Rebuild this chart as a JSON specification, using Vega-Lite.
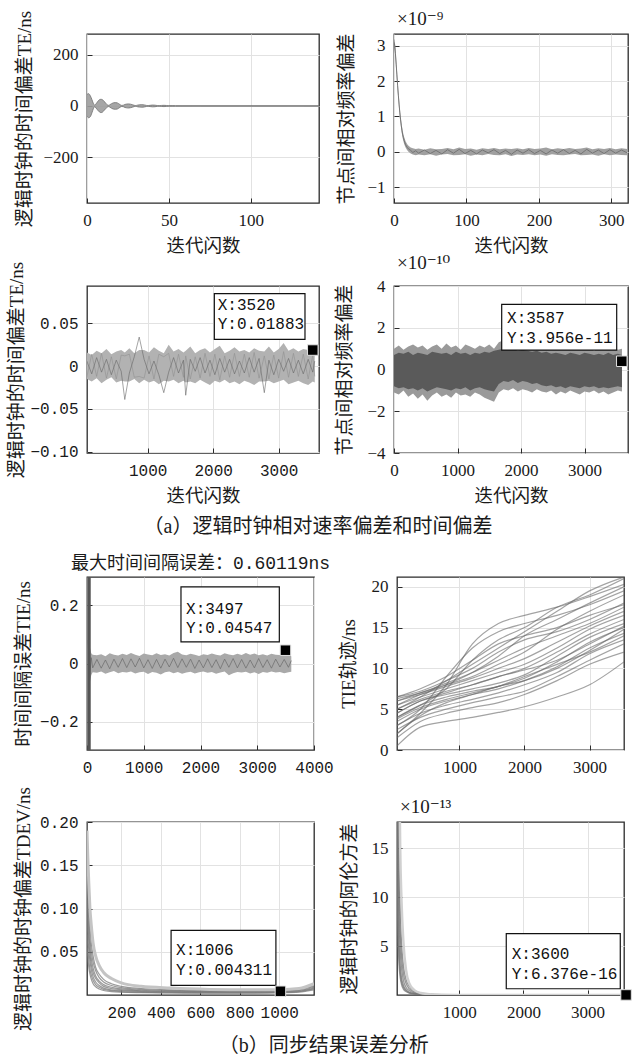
{
"$schema":"https://vega.github.io/schema/vega-lite/v6.json",
"padding":{"left":6,"top":9,"right":4,"bottom":4},
"background":"white",
"config":{
 "view":{"stroke":"#2b2b2b","strokeWidth":1.3},
 "axis":{"domain":false,"grid":true,"gridColor":"#e2e2e2","gridWidth":1,"ticks":true,"tickSize":-5,"tickColor":"#2b2b2b","tickWidth":1,"labelPadding":14,"labelFont":"Liberation Serif","labelFontSize":17,"labelColor":"#1a1a1a","labelFlush":false,"labelOverlap":false,"titleFont":"Liberation Serif, Noto Sans CJK SC","titleFontSize":19,"titleFontWeight":"normal","titleColor":"#1a1a1a","titlePadding":8,"format":"d"},
 "title":{"fontWeight":"normal","color":"#1a1a1a"}
},
"datasets":{
"p1":[{"x":0,"lo":-40,"hi":45},{"x":1,"lo":-46,"hi":48},{"x":2,"lo":-42,"hi":40},{"x":3,"lo":-27,"hi":25},{"x":4,"lo":-9,"hi":8},{"x":4.7,"lo":-3,"hi":3},{"x":5.5,"lo":-8,"hi":8},{"x":6.5,"lo":-16,"hi":17},{"x":7.5,"lo":-23,"hi":24},{"x":8.5,"lo":-26,"hi":26},{"x":9.5,"lo":-24,"hi":24},{"x":10.5,"lo":-17,"hi":18},{"x":11.5,"lo":-10,"hi":10},{"x":12.5,"lo":-4,"hi":4},{"x":13.2,"lo":-2.5,"hi":2.5},{"x":14,"lo":-5,"hi":5},{"x":15,"lo":-9,"hi":9},{"x":16,"lo":-12,"hi":12},{"x":17.3,"lo":-13,"hi":13},{"x":18.5,"lo":-12,"hi":12},{"x":19.5,"lo":-8,"hi":8},{"x":20.5,"lo":-4,"hi":4},{"x":21.3,"lo":-2,"hi":2},{"x":22.2,"lo":-3,"hi":3},{"x":23.2,"lo":-6,"hi":6},{"x":24.3,"lo":-7.5,"hi":7.5},{"x":25.4,"lo":-8,"hi":8},{"x":26.5,"lo":-7,"hi":7},{"x":27.7,"lo":-5,"hi":5},{"x":28.8,"lo":-2.5,"hi":2.5},{"x":29.7,"lo":-1.5,"hi":1.5},{"x":30.7,"lo":-3,"hi":3},{"x":32,"lo":-4.5,"hi":4.5},{"x":33.5,"lo":-5,"hi":5},{"x":35,"lo":-4,"hi":4},{"x":36.3,"lo":-2,"hi":2},{"x":37.3,"lo":-1.2,"hi":1.2},{"x":38.5,"lo":-2.5,"hi":2.5},{"x":40,"lo":-3.5,"hi":3.5},{"x":41.5,"lo":-3,"hi":3},{"x":43,"lo":-1.5,"hi":1.5},{"x":44,"lo":-1,"hi":1},{"x":45.5,"lo":-2,"hi":2},{"x":47,"lo":-2.5,"hi":2.5},{"x":48.5,"lo":-1.8,"hi":1.8},{"x":50,"lo":-1,"hi":1},{"x":52,"lo":-1.5,"hi":1.5},{"x":54,"lo":-1.2,"hi":1.2},{"x":58,"lo":-1,"hi":1},{"x":141.6,"lo":-0.8,"hi":0.8}],
"p2":[{"x":0,"lo":2.95,"hi":3.2,"m":3.1},{"x":1,"lo":2.85,"hi":3.15,"m":3.0},{"x":2,"lo":2.6,"hi":2.95,"m":2.78},{"x":3,"lo":2.3,"hi":2.65,"m":2.48},{"x":4,"lo":2.0,"hi":2.35,"m":2.18},{"x":5,"lo":1.7,"hi":2.05,"m":1.88},{"x":6,"lo":1.45,"hi":1.75,"m":1.6},{"x":7,"lo":1.2,"hi":1.5,"m":1.35},{"x":8,"lo":0.98,"hi":1.25,"m":1.12},{"x":9,"lo":0.8,"hi":1.05,"m":0.92},{"x":10,"lo":0.63,"hi":0.88,"m":0.75},{"x":11,"lo":0.5,"hi":0.72,"m":0.6},{"x":12,"lo":0.38,"hi":0.6,"m":0.48},{"x":13,"lo":0.3,"hi":0.5,"m":0.4},{"x":14,"lo":0.22,"hi":0.42,"m":0.32},{"x":16,"lo":0.12,"hi":0.3,"m":0.2},{"x":18,"lo":0.05,"hi":0.22,"m":0.13},{"x":20,"lo":0.0,"hi":0.17,"m":0.08},{"x":23,"lo":-0.05,"hi":0.12,"m":0.04},{"x":26,"lo":-0.08,"hi":0.1,"m":-0.02},{"x":30,"lo":-0.1,"hi":0.08,"m":0.03},{"x":34,"lo":-0.08,"hi":0.09,"m":-0.04},{"x":42,"lo":-0.1,"hi":0.06,"m":0.05},{"x":50,"lo":-0.07,"hi":0.1,"m":-0.05},{"x":58,"lo":-0.11,"hi":0.07,"m":0.04},{"x":66,"lo":-0.08,"hi":0.08,"m":-0.06},{"x":74,"lo":-0.06,"hi":0.11,"m":0.06},{"x":82,"lo":-0.1,"hi":0.07,"m":-0.04},{"x":90,"lo":-0.09,"hi":0.12,"m":0.07},{"x":98,"lo":-0.07,"hi":0.08,"m":-0.05},{"x":106,"lo":-0.11,"hi":0.09,"m":0.04},{"x":114,"lo":-0.08,"hi":0.06,"m":-0.06},{"x":122,"lo":-0.1,"hi":0.1,"m":0.05},{"x":130,"lo":-0.06,"hi":0.08,"m":-0.03},{"x":138,"lo":-0.09,"hi":0.11,"m":0.06},{"x":146,"lo":-0.1,"hi":0.07,"m":-0.05},{"x":154,"lo":-0.07,"hi":0.09,"m":0.04},{"x":162,"lo":-0.12,"hi":0.08,"m":-0.07},{"x":170,"lo":-0.08,"hi":0.1,"m":0.05},{"x":178,"lo":-0.09,"hi":0.07,"m":-0.04},{"x":186,"lo":-0.07,"hi":0.11,"m":0.06},{"x":194,"lo":-0.1,"hi":0.08,"m":-0.05},{"x":202,"lo":-0.08,"hi":0.09,"m":0.04},{"x":210,"lo":-0.11,"hi":0.12,"m":-0.06},{"x":218,"lo":-0.07,"hi":0.07,"m":0.05},{"x":226,"lo":-0.09,"hi":0.1,"m":-0.04},{"x":234,"lo":-0.1,"hi":0.08,"m":0.06},{"x":242,"lo":-0.08,"hi":0.11,"m":-0.05},{"x":250,"lo":-0.06,"hi":0.08,"m":0.04},{"x":258,"lo":-0.1,"hi":0.09,"m":-0.06},{"x":266,"lo":-0.09,"hi":0.12,"m":0.07},{"x":274,"lo":-0.08,"hi":0.07,"m":-0.04},{"x":282,"lo":-0.11,"hi":0.1,"m":0.05},{"x":290,"lo":-0.07,"hi":0.08,"m":-0.05},{"x":298,"lo":-0.1,"hi":0.11,"m":0.06},{"x":306,"lo":-0.08,"hi":0.07,"m":-0.04},{"x":314,"lo":-0.09,"hi":0.1,"m":0.05},{"x":322,"lo":-0.1,"hi":0.08,"m":-0.03}],
"p3":[{"x":70,"lo":-0.015,"hi":0.016,"m":0.006,"n":-0.013},{"x":145,"lo":-0.018,"hi":0.013,"m":-0.009,"n":0.014},{"x":220,"lo":-0.014,"hi":0.018,"m":0.01,"n":-0.012},{"x":295,"lo":-0.02,"hi":0.015,"m":-0.007,"n":0.015},{"x":370,"lo":-0.016,"hi":0.02,"m":0.008,"n":-0.014},{"x":445,"lo":-0.013,"hi":0.014,"m":-0.01,"n":0.011},{"x":520,"lo":-0.019,"hi":0.017,"m":0.007,"n":-0.015},{"x":595,"lo":-0.017,"hi":0.019,"m":-0.006,"n":0.013},{"x":650,"lo":-0.018,"hi":0.016,"m":-0.039,"n":0.012},{"x":720,"lo":-0.018,"hi":0.021,"m":-0.008,"n":0.014},{"x":795,"lo":-0.015,"hi":0.015,"m":0.011,"n":-0.013},{"x":870,"lo":-0.02,"hi":0.019,"m":0.034,"n":-0.012},{"x":945,"lo":-0.016,"hi":0.019,"m":0.008,"n":-0.014},{"x":1020,"lo":-0.019,"hi":0.016,"m":-0.009,"n":0.012},{"x":1095,"lo":-0.017,"hi":0.022,"m":0.006,"n":-0.015},{"x":1170,"lo":-0.021,"hi":0.018,"m":-0.01,"n":0.014},{"x":1245,"lo":-0.017,"hi":0.015,"m":-0.031,"n":0.011},{"x":1320,"lo":-0.018,"hi":0.025,"m":-0.007,"n":0.015},{"x":1395,"lo":-0.016,"hi":0.017,"m":0.01,"n":-0.012},{"x":1470,"lo":-0.02,"hi":0.02,"m":-0.008,"n":0.014},{"x":1545,"lo":-0.017,"hi":0.016,"m":0.007,"n":-0.013},{"x":1580,"lo":-0.019,"hi":0.018,"m":-0.034,"n":0.012},{"x":1650,"lo":-0.018,"hi":0.023,"m":0.008,"n":-0.015},{"x":1725,"lo":-0.02,"hi":0.015,"m":-0.006,"n":0.011},{"x":1800,"lo":-0.016,"hi":0.019,"m":0.01,"n":-0.014},{"x":1875,"lo":-0.019,"hi":0.021,"m":-0.008,"n":0.015},{"x":1950,"lo":-0.022,"hi":0.016,"m":0.007,"n":-0.012},{"x":2025,"lo":-0.017,"hi":0.02,"m":-0.01,"n":0.014},{"x":2100,"lo":-0.019,"hi":0.024,"m":0.009,"n":-0.016},{"x":2175,"lo":-0.016,"hi":0.015,"m":-0.007,"n":0.012},{"x":2250,"lo":-0.02,"hi":0.018,"m":0.008,"n":-0.013},{"x":2325,"lo":-0.018,"hi":0.022,"m":-0.009,"n":0.015},{"x":2400,"lo":-0.021,"hi":0.017,"m":0.006,"n":-0.012},{"x":2475,"lo":-0.017,"hi":0.019,"m":-0.008,"n":0.014},{"x":2550,"lo":-0.019,"hi":0.016,"m":0.01,"n":-0.013},{"x":2625,"lo":-0.022,"hi":0.021,"m":-0.007,"n":0.016},{"x":2700,"lo":-0.018,"hi":0.018,"m":0.009,"n":-0.014},{"x":2780,"lo":-0.018,"hi":0.017,"m":-0.031,"n":0.012},{"x":2850,"lo":-0.017,"hi":0.023,"m":0.007,"n":-0.015},{"x":2925,"lo":-0.02,"hi":0.016,"m":-0.01,"n":0.013},{"x":3000,"lo":-0.018,"hi":0.02,"m":0.008,"n":-0.014},{"x":3075,"lo":-0.016,"hi":0.027,"m":-0.006,"n":0.017},{"x":3150,"lo":-0.021,"hi":0.018,"m":0.009,"n":-0.013},{"x":3225,"lo":-0.019,"hi":0.021,"m":-0.008,"n":0.015},{"x":3300,"lo":-0.017,"hi":0.017,"m":0.007,"n":-0.012},{"x":3375,"lo":-0.02,"hi":0.02,"m":-0.009,"n":0.014},{"x":3450,"lo":-0.022,"hi":0.019,"m":0.008,"n":-0.015},{"x":3520,"lo":-0.018,"hi":0.021,"m":-0.007,"n":0.013},{"x":3550,"lo":-0.019,"hi":0.018,"m":0.006,"n":-0.012}],
"p4":[{"x":0,"lo":-1.1,"hi":1.0,"cl":-0.8,"ch":0.7},{"x":75,"lo":-1.2,"hi":1.15,"cl":-0.9,"ch":0.8},{"x":150,"lo":-1.0,"hi":0.95,"cl":-0.85,"ch":0.75},{"x":225,"lo":-1.3,"hi":1.1,"cl":-0.95,"ch":0.85},{"x":300,"lo":-1.15,"hi":1.2,"cl":-0.9,"ch":0.7},{"x":375,"lo":-1.4,"hi":1.05,"cl":-1.0,"ch":0.8},{"x":450,"lo":-1.2,"hi":1.15,"cl":-0.9,"ch":0.75},{"x":525,"lo":-1.5,"hi":0.95,"cl":-1.05,"ch":0.7},{"x":600,"lo":-1.25,"hi":1.1,"cl":-0.95,"ch":0.85},{"x":675,"lo":-1.1,"hi":1.2,"cl":-0.85,"ch":0.8},{"x":750,"lo":-1.3,"hi":1.0,"cl":-0.9,"ch":0.75},{"x":825,"lo":-1.2,"hi":1.25,"cl":-0.95,"ch":0.8},{"x":900,"lo":-1.35,"hi":1.05,"cl":-1.0,"ch":0.7},{"x":975,"lo":-1.1,"hi":1.15,"cl":-0.9,"ch":0.85},{"x":1050,"lo":-1.25,"hi":0.95,"cl":-0.95,"ch":0.75},{"x":1125,"lo":-1.2,"hi":1.2,"cl":-0.85,"ch":0.8},{"x":1200,"lo":-1.3,"hi":1.1,"cl":-1.0,"ch":0.7},{"x":1275,"lo":-1.1,"hi":1.0,"cl":-0.9,"ch":0.8},{"x":1350,"lo":-1.2,"hi":1.15,"cl":-0.85,"ch":0.75},{"x":1425,"lo":-1.35,"hi":1.05,"cl":-0.95,"ch":0.85},{"x":1500,"lo":-1.45,"hi":1.2,"cl":-1.0,"ch":0.8},{"x":1575,"lo":-1.55,"hi":1.0,"cl":-1.05,"ch":0.9},{"x":1650,"lo":-1.1,"hi":1.3,"cl":-0.7,"ch":0.95},{"x":1725,"lo":-0.95,"hi":1.4,"cl":-0.55,"ch":1.0},{"x":1800,"lo":-1.0,"hi":1.25,"cl":-0.6,"ch":0.95},{"x":1875,"lo":-0.9,"hi":1.35,"cl":-0.5,"ch":1.0},{"x":1950,"lo":-1.05,"hi":1.2,"cl":-0.65,"ch":0.9},{"x":2025,"lo":-0.95,"hi":1.3,"cl":-0.55,"ch":0.95},{"x":2100,"lo":-1.0,"hi":1.15,"cl":-0.6,"ch":0.9},{"x":2175,"lo":-1.1,"hi":1.25,"cl":-0.7,"ch":0.85},{"x":2250,"lo":-0.95,"hi":1.1,"cl":-0.65,"ch":0.9},{"x":2325,"lo":-1.05,"hi":1.2,"cl":-0.75,"ch":0.8},{"x":2400,"lo":-1.1,"hi":1.05,"cl":-0.8,"ch":0.85},{"x":2475,"lo":-1.0,"hi":1.15,"cl":-0.75,"ch":0.75},{"x":2550,"lo":-1.2,"hi":1.0,"cl":-0.85,"ch":0.8},{"x":2625,"lo":-1.05,"hi":1.1,"cl":-0.8,"ch":0.75},{"x":2700,"lo":-1.15,"hi":0.95,"cl":-0.9,"ch":0.7},{"x":2775,"lo":-1.0,"hi":1.05,"cl":-0.8,"ch":0.8},{"x":2850,"lo":-1.1,"hi":1.1,"cl":-0.85,"ch":0.75},{"x":2925,"lo":-1.2,"hi":0.95,"cl":-0.9,"ch":0.7},{"x":3000,"lo":-1.05,"hi":1.0,"cl":-0.8,"ch":0.8},{"x":3075,"lo":-1.1,"hi":1.1,"cl":-0.85,"ch":0.75},{"x":3150,"lo":-1.0,"hi":0.9,"cl":-0.8,"ch":0.7},{"x":3225,"lo":-1.15,"hi":1.05,"cl":-0.9,"ch":0.75},{"x":3300,"lo":-1.05,"hi":0.95,"cl":-0.85,"ch":0.7},{"x":3375,"lo":-1.2,"hi":1.0,"cl":-0.9,"ch":0.8},{"x":3450,"lo":-1.1,"hi":1.1,"cl":-0.85,"ch":0.7},{"x":3525,"lo":-1.0,"hi":0.95,"cl":-0.8,"ch":0.75},{"x":3590,"lo":-1.05,"hi":1.0,"cl":-0.85,"ch":0.7}],
"p5":[{"x":20,"lo":-0.12,"hi":0.12,"m":0.08},{"x":45,"lo":-0.07,"hi":0.06,"m":-0.05},{"x":75,"lo":-0.04,"hi":0.035,"m":0.02},{"x":100,"lo":-0.03,"hi":0.03,"m":-0.015},{"x":175,"lo":-0.032,"hi":0.028,"m":0.014},{"x":250,"lo":-0.027,"hi":0.032,"m":-0.016},{"x":325,"lo":-0.035,"hi":0.025,"m":0.012},{"x":400,"lo":-0.03,"hi":0.035,"m":-0.018},{"x":475,"lo":-0.026,"hi":0.03,"m":0.015},{"x":550,"lo":-0.033,"hi":0.027,"m":-0.013},{"x":625,"lo":-0.029,"hi":0.033,"m":0.017},{"x":700,"lo":-0.031,"hi":0.029,"m":-0.014},{"x":775,"lo":-0.027,"hi":0.036,"m":0.016},{"x":850,"lo":-0.034,"hi":0.03,"m":-0.012},{"x":925,"lo":-0.03,"hi":0.026,"m":0.018},{"x":1000,"lo":-0.028,"hi":0.034,"m":-0.015},{"x":1075,"lo":-0.036,"hi":0.031,"m":0.013},{"x":1150,"lo":-0.029,"hi":0.028,"m":-0.017},{"x":1225,"lo":-0.032,"hi":0.035,"m":0.014},{"x":1300,"lo":-0.038,"hi":0.029,"m":-0.016},{"x":1375,"lo":-0.03,"hi":0.032,"m":0.015},{"x":1450,"lo":-0.027,"hi":0.027,"m":-0.012},{"x":1525,"lo":-0.033,"hi":0.036,"m":0.018},{"x":1600,"lo":-0.029,"hi":0.04,"m":-0.014},{"x":1675,"lo":-0.035,"hi":0.031,"m":0.016},{"x":1750,"lo":-0.031,"hi":0.028,"m":-0.013},{"x":1825,"lo":-0.028,"hi":0.033,"m":0.015},{"x":1900,"lo":-0.034,"hi":0.03,"m":-0.017},{"x":1975,"lo":-0.03,"hi":0.026,"m":0.012},{"x":2050,"lo":-0.027,"hi":0.032,"m":-0.015},{"x":2125,"lo":-0.032,"hi":0.029,"m":0.016},{"x":2200,"lo":-0.029,"hi":0.034,"m":-0.014},{"x":2275,"lo":-0.035,"hi":0.03,"m":0.013},{"x":2350,"lo":-0.031,"hi":0.027,"m":-0.018},{"x":2425,"lo":-0.027,"hi":0.035,"m":0.015},{"x":2500,"lo":-0.04,"hi":0.031,"m":-0.013},{"x":2575,"lo":-0.033,"hi":0.028,"m":0.017},{"x":2650,"lo":-0.029,"hi":0.033,"m":-0.015},{"x":2725,"lo":-0.031,"hi":0.029,"m":0.014},{"x":2800,"lo":-0.028,"hi":0.036,"m":-0.016},{"x":2875,"lo":-0.034,"hi":0.03,"m":0.012},{"x":2950,"lo":-0.03,"hi":0.034,"m":-0.015},{"x":3025,"lo":-0.036,"hi":0.028,"m":0.017},{"x":3100,"lo":-0.029,"hi":0.032,"m":-0.014},{"x":3175,"lo":-0.032,"hi":0.027,"m":0.013},{"x":3250,"lo":-0.027,"hi":0.033,"m":-0.016},{"x":3325,"lo":-0.031,"hi":0.03,"m":0.015},{"x":3400,"lo":-0.029,"hi":0.029,"m":-0.012},{"x":3475,"lo":-0.033,"hi":0.026,"m":0.014},{"x":3550,"lo":-0.03,"hi":0.028,"m":-0.013},{"x":3600,"lo":-0.028,"hi":0.025,"m":0.01}],
"p6":[
{"s":1,"x":41,"y":0.5},{"s":1,"x":400,"y":2.8},{"s":1,"x":800,"y":3.5},{"s":1,"x":1200,"y":4.0},{"s":1,"x":1600,"y":4.6},{"s":1,"x":2000,"y":5.3},{"s":1,"x":2500,"y":6.5},{"s":1,"x":3000,"y":8.0},{"s":1,"x":3529,"y":10.8},
{"s":2,"x":41,"y":1.5},{"s":2,"x":400,"y":3.5},{"s":2,"x":800,"y":4.5},{"s":2,"x":1200,"y":5.2},{"s":2,"x":1600,"y":5.8},{"s":2,"x":2000,"y":6.8},{"s":2,"x":2500,"y":8.5},{"s":2,"x":3000,"y":10.5},{"s":2,"x":3529,"y":12.0},
{"s":3,"x":41,"y":2.5},{"s":3,"x":400,"y":4.0},{"s":3,"x":800,"y":5.0},{"s":3,"x":1200,"y":5.8},{"s":3,"x":1600,"y":6.5},{"s":3,"x":2000,"y":7.2},{"s":3,"x":2500,"y":9.0},{"s":3,"x":3000,"y":11.0},{"s":3,"x":3529,"y":13.0},
{"s":4,"x":41,"y":3.0},{"s":4,"x":400,"y":4.5},{"s":4,"x":800,"y":5.5},{"s":4,"x":1200,"y":6.2},{"s":4,"x":1600,"y":7.0},{"s":4,"x":2000,"y":8.0},{"s":4,"x":2500,"y":9.5},{"s":4,"x":3000,"y":11.8},{"s":4,"x":3529,"y":13.5},
{"s":5,"x":41,"y":3.5},{"s":5,"x":400,"y":5.0},{"s":5,"x":800,"y":6.0},{"s":5,"x":1200,"y":6.8},{"s":5,"x":1600,"y":7.5},{"s":5,"x":2000,"y":8.5},{"s":5,"x":2500,"y":10.2},{"s":5,"x":3000,"y":12.5},{"s":5,"x":3529,"y":14.3},
{"s":6,"x":41,"y":4.0},{"s":6,"x":400,"y":5.5},{"s":6,"x":800,"y":6.5},{"s":6,"x":1200,"y":7.2},{"s":6,"x":1600,"y":7.8},{"s":6,"x":2000,"y":8.8},{"s":6,"x":2500,"y":10.8},{"s":6,"x":3000,"y":13.2},{"s":6,"x":3529,"y":15.0},
{"s":7,"x":41,"y":4.5},{"s":7,"x":400,"y":6.0},{"s":7,"x":800,"y":6.8},{"s":7,"x":1200,"y":7.5},{"s":7,"x":1600,"y":8.2},{"s":7,"x":2000,"y":9.2},{"s":7,"x":2500,"y":11.5},{"s":7,"x":3000,"y":13.8},{"s":7,"x":3529,"y":15.5},
{"s":8,"x":41,"y":5.0},{"s":8,"x":400,"y":6.2},{"s":8,"x":800,"y":7.2},{"s":8,"x":1200,"y":8.0},{"s":8,"x":1600,"y":9.0},{"s":8,"x":2000,"y":10.0},{"s":8,"x":2500,"y":12.0},{"s":8,"x":3000,"y":14.2},{"s":8,"x":3529,"y":16.0},
{"s":9,"x":41,"y":5.5},{"s":9,"x":400,"y":6.5},{"s":9,"x":800,"y":7.5},{"s":9,"x":1200,"y":8.5},{"s":9,"x":1600,"y":9.5},{"s":9,"x":2000,"y":10.5},{"s":9,"x":2500,"y":12.5},{"s":9,"x":3000,"y":14.8},{"s":9,"x":3529,"y":16.5},
{"s":10,"x":41,"y":6.0},{"s":10,"x":400,"y":6.8},{"s":10,"x":800,"y":7.8},{"s":10,"x":1200,"y":8.8},{"s":10,"x":1600,"y":10.0},{"s":10,"x":2000,"y":11.2},{"s":10,"x":2500,"y":13.2},{"s":10,"x":3000,"y":15.2},{"s":10,"x":3529,"y":17.0},
{"s":11,"x":41,"y":6.3},{"s":11,"x":400,"y":7.0},{"s":11,"x":800,"y":8.2},{"s":11,"x":1200,"y":9.5},{"s":11,"x":1600,"y":11.0},{"s":11,"x":2000,"y":12.5},{"s":11,"x":2500,"y":14.0},{"s":11,"x":3000,"y":15.5},{"s":11,"x":3529,"y":17.5},
{"s":12,"x":41,"y":6.5},{"s":12,"x":400,"y":7.2},{"s":12,"x":800,"y":8.5},{"s":12,"x":1200,"y":10.0},{"s":12,"x":1600,"y":12.0},{"s":12,"x":2000,"y":13.5},{"s":12,"x":2500,"y":14.5},{"s":12,"x":3000,"y":16.0},{"s":12,"x":3529,"y":18.0},
{"s":13,"x":41,"y":6.0},{"s":13,"x":400,"y":7.0},{"s":13,"x":800,"y":8.0},{"s":13,"x":1200,"y":9.0},{"s":13,"x":1600,"y":10.5},{"s":13,"x":2000,"y":12.0},{"s":13,"x":2500,"y":14.8},{"s":13,"x":3000,"y":17.0},{"s":13,"x":3529,"y":19.0},
{"s":14,"x":41,"y":3.0},{"s":14,"x":400,"y":5.0},{"s":14,"x":800,"y":9.0},{"s":14,"x":1200,"y":12.5},{"s":14,"x":1600,"y":14.5},{"s":14,"x":2000,"y":15.5},{"s":14,"x":2500,"y":16.5},{"s":14,"x":3000,"y":17.8},{"s":14,"x":3529,"y":19.5},
{"s":15,"x":41,"y":2.0},{"s":15,"x":400,"y":4.5},{"s":15,"x":800,"y":8.0},{"s":15,"x":1200,"y":13.0},{"s":15,"x":1600,"y":15.5},{"s":15,"x":2000,"y":16.5},{"s":15,"x":2500,"y":17.5},{"s":15,"x":3000,"y":18.8},{"s":15,"x":3529,"y":20.3},
{"s":16,"x":41,"y":4.0},{"s":16,"x":400,"y":5.5},{"s":16,"x":800,"y":7.5},{"s":16,"x":1200,"y":11.0},{"s":16,"x":1600,"y":13.5},{"s":16,"x":2000,"y":15.0},{"s":16,"x":2500,"y":17.5},{"s":16,"x":3000,"y":19.0},{"s":16,"x":3529,"y":21.0},
{"s":17,"x":41,"y":5.0},{"s":17,"x":400,"y":6.5},{"s":17,"x":800,"y":8.5},{"s":17,"x":1200,"y":10.5},{"s":17,"x":1600,"y":12.5},{"s":17,"x":2000,"y":14.5},{"s":17,"x":2500,"y":17.0},{"s":17,"x":3000,"y":19.5},{"s":17,"x":3529,"y":21.2},
{"s":18,"x":41,"y":5.5},{"s":18,"x":400,"y":6.8},{"s":18,"x":800,"y":8.0},{"s":18,"x":1200,"y":9.5},{"s":18,"x":1600,"y":11.5},{"s":18,"x":2000,"y":14.0},{"s":18,"x":2500,"y":16.0},{"s":18,"x":3000,"y":18.0},{"s":18,"x":3529,"y":20.0},
{"s":19,"x":41,"y":4.5},{"s":19,"x":400,"y":6.0},{"s":19,"x":800,"y":7.0},{"s":19,"x":1200,"y":8.0},{"s":19,"x":1600,"y":9.0},{"s":19,"x":2000,"y":9.8},{"s":19,"x":2500,"y":11.0},{"s":19,"x":3000,"y":13.0},{"s":19,"x":3529,"y":15.2},
{"s":20,"x":41,"y":3.8},{"s":20,"x":400,"y":5.2},{"s":20,"x":800,"y":6.2},{"s":20,"x":1200,"y":7.0},{"s":20,"x":1600,"y":7.8},{"s":20,"x":2000,"y":9.0},{"s":20,"x":2500,"y":10.5},{"s":20,"x":3000,"y":12.0},{"s":20,"x":3529,"y":14.0},
{"s":21,"x":41,"y":6.5},{"s":21,"x":400,"y":7.5},{"s":21,"x":800,"y":9.0},{"s":21,"x":1200,"y":11.0},{"s":21,"x":1600,"y":13.0},{"s":21,"x":2000,"y":14.0},{"s":21,"x":2500,"y":15.0},{"s":21,"x":3000,"y":16.5},{"s":21,"x":3529,"y":17.8},
{"s":22,"x":41,"y":2.0},{"s":22,"x":400,"y":4.2},{"s":22,"x":800,"y":5.8},{"s":22,"x":1200,"y":6.8},{"s":22,"x":1600,"y":7.8},{"s":22,"x":2000,"y":8.5},{"s":22,"x":2500,"y":10.0},{"s":22,"x":3000,"y":12.2},{"s":22,"x":3529,"y":14.8}],
"p7":[
{"s":1,"x":26,"y":0.2},{"s":1,"x":30,"y":0.15},{"s":1,"x":35,"y":0.11},{"s":1,"x":41,"y":0.08},{"s":1,"x":48,"y":0.06},{"s":1,"x":57,"y":0.045},{"s":1,"x":70,"y":0.032},{"s":1,"x":88,"y":0.024},{"s":1,"x":110,"y":0.018},{"s":1,"x":150,"y":0.013},{"s":1,"x":200,"y":0.01},{"s":1,"x":300,"y":0.0075},{"s":1,"x":450,"y":0.006},{"s":1,"x":650,"y":0.005},{"s":1,"x":850,"y":0.005},{"s":1,"x":1000,"y":0.0055},{"s":1,"x":1100,"y":0.007},{"s":1,"x":1176,"y":0.012},
{"s":2,"x":26,"y":0.17},{"s":2,"x":30,"y":0.12},{"s":2,"x":35,"y":0.09},{"s":2,"x":41,"y":0.065},{"s":2,"x":48,"y":0.05},{"s":2,"x":57,"y":0.038},{"s":2,"x":70,"y":0.028},{"s":2,"x":88,"y":0.02},{"s":2,"x":110,"y":0.015},{"s":2,"x":150,"y":0.011},{"s":2,"x":200,"y":0.0085},{"s":2,"x":300,"y":0.0065},{"s":2,"x":450,"y":0.0052},{"s":2,"x":650,"y":0.0045},{"s":2,"x":850,"y":0.0045},{"s":2,"x":1000,"y":0.005},{"s":2,"x":1100,"y":0.0065},{"s":2,"x":1176,"y":0.011},
{"s":3,"x":26,"y":0.13},{"s":3,"x":30,"y":0.1},{"s":3,"x":35,"y":0.075},{"s":3,"x":41,"y":0.055},{"s":3,"x":48,"y":0.042},{"s":3,"x":57,"y":0.031},{"s":3,"x":70,"y":0.022},{"s":3,"x":88,"y":0.016},{"s":3,"x":110,"y":0.012},{"s":3,"x":150,"y":0.009},{"s":3,"x":200,"y":0.007},{"s":3,"x":300,"y":0.0055},{"s":3,"x":450,"y":0.0045},{"s":3,"x":650,"y":0.004},{"s":3,"x":850,"y":0.004},{"s":3,"x":1000,"y":0.0045},{"s":3,"x":1100,"y":0.006},{"s":3,"x":1176,"y":0.01},
{"s":4,"x":26,"y":0.11},{"s":4,"x":30,"y":0.085},{"s":4,"x":35,"y":0.063},{"s":4,"x":41,"y":0.047},{"s":4,"x":48,"y":0.035},{"s":4,"x":57,"y":0.026},{"s":4,"x":70,"y":0.019},{"s":4,"x":88,"y":0.014},{"s":4,"x":110,"y":0.01},{"s":4,"x":150,"y":0.0075},{"s":4,"x":200,"y":0.006},{"s":4,"x":300,"y":0.0048},{"s":4,"x":450,"y":0.004},{"s":4,"x":650,"y":0.0035},{"s":4,"x":850,"y":0.0035},{"s":4,"x":1000,"y":0.004},{"s":4,"x":1100,"y":0.0052},{"s":4,"x":1176,"y":0.009},
{"s":5,"x":26,"y":0.09},{"s":5,"x":30,"y":0.07},{"s":5,"x":35,"y":0.052},{"s":5,"x":41,"y":0.039},{"s":5,"x":48,"y":0.029},{"s":5,"x":57,"y":0.021},{"s":5,"x":70,"y":0.015},{"s":5,"x":88,"y":0.011},{"s":5,"x":110,"y":0.008},{"s":5,"x":150,"y":0.006},{"s":5,"x":200,"y":0.005},{"s":5,"x":300,"y":0.004},{"s":5,"x":450,"y":0.0034},{"s":5,"x":650,"y":0.003},{"s":5,"x":850,"y":0.003},{"s":5,"x":1000,"y":0.0035},{"s":5,"x":1100,"y":0.0045},{"s":5,"x":1176,"y":0.008},
{"s":6,"x":26,"y":0.07},{"s":6,"x":30,"y":0.055},{"s":6,"x":35,"y":0.041},{"s":6,"x":41,"y":0.03},{"s":6,"x":48,"y":0.023},{"s":6,"x":57,"y":0.017},{"s":6,"x":70,"y":0.012},{"s":6,"x":88,"y":0.009},{"s":6,"x":110,"y":0.0065},{"s":6,"x":150,"y":0.005},{"s":6,"x":200,"y":0.004},{"s":6,"x":300,"y":0.0033},{"s":6,"x":450,"y":0.0028},{"s":6,"x":650,"y":0.0025},{"s":6,"x":850,"y":0.0025},{"s":6,"x":1000,"y":0.003},{"s":6,"x":1100,"y":0.004},{"s":6,"x":1176,"y":0.007},
{"s":7,"x":26,"y":0.055},{"s":7,"x":30,"y":0.043},{"s":7,"x":35,"y":0.032},{"s":7,"x":41,"y":0.024},{"s":7,"x":48,"y":0.018},{"s":7,"x":57,"y":0.013},{"s":7,"x":70,"y":0.0095},{"s":7,"x":88,"y":0.007},{"s":7,"x":110,"y":0.0052},{"s":7,"x":150,"y":0.004},{"s":7,"x":200,"y":0.0033},{"s":7,"x":300,"y":0.0027},{"s":7,"x":450,"y":0.0023},{"s":7,"x":650,"y":0.002},{"s":7,"x":850,"y":0.002},{"s":7,"x":1000,"y":0.0025},{"s":7,"x":1100,"y":0.0034},{"s":7,"x":1176,"y":0.006}],
"p7b":[{"x":26,"y":0.19},{"x":30,"y":0.16},{"x":35,"y":0.13},{"x":41,"y":0.1},{"x":48,"y":0.08},{"x":57,"y":0.06},{"x":70,"y":0.045},{"x":88,"y":0.034},{"x":110,"y":0.026},{"x":150,"y":0.019},{"x":200,"y":0.014},{"x":300,"y":0.01},{"x":450,"y":0.008},{"x":650,"y":0.0065},{"x":850,"y":0.006},{"x":1000,"y":0.0062},{"x":1100,"y":0.0075},{"x":1176,"y":0.013}],
"p8":[
{"s":1,"x":30,"y":30},{"s":1,"x":40,"y":15},{"s":1,"x":50,"y":9},{"s":1,"x":65,"y":4.8},{"s":1,"x":80,"y":3.0},{"s":1,"x":100,"y":1.8},{"s":1,"x":130,"y":1.0},{"s":1,"x":170,"y":0.55},{"s":1,"x":220,"y":0.3},{"s":1,"x":300,"y":0.14},{"s":1,"x":400,"y":0.07},{"s":1,"x":550,"y":0.03},{"s":1,"x":750,"y":0.015},{"s":1,"x":1000,"y":0.008},{"s":1,"x":1500,"y":0.003},{"s":1,"x":3568,"y":0.0005},
{"s":2,"x":30,"y":40},{"s":2,"x":40,"y":22},{"s":2,"x":50,"y":13.5},{"s":2,"x":65,"y":7.5},{"s":2,"x":80,"y":4.6},{"s":2,"x":100,"y":2.8},{"s":2,"x":130,"y":1.5},{"s":2,"x":170,"y":0.8},{"s":2,"x":220,"y":0.45},{"s":2,"x":300,"y":0.2},{"s":2,"x":400,"y":0.1},{"s":2,"x":550,"y":0.045},{"s":2,"x":750,"y":0.02},{"s":2,"x":1000,"y":0.01},{"s":2,"x":1500,"y":0.004},{"s":2,"x":3568,"y":0.0006},
{"s":3,"x":30,"y":55},{"s":3,"x":40,"y":30},{"s":3,"x":50,"y":19},{"s":3,"x":65,"y":10.5},{"s":3,"x":80,"y":6.5},{"s":3,"x":100,"y":4.0},{"s":3,"x":130,"y":2.2},{"s":3,"x":170,"y":1.2},{"s":3,"x":220,"y":0.65},{"s":3,"x":300,"y":0.3},{"s":3,"x":400,"y":0.15},{"s":3,"x":550,"y":0.065},{"s":3,"x":750,"y":0.03},{"s":3,"x":1000,"y":0.014},{"s":3,"x":1500,"y":0.005},{"s":3,"x":3568,"y":0.0007},
{"s":4,"x":30,"y":20},{"s":4,"x":40,"y":11},{"s":4,"x":50,"y":6.5},{"s":4,"x":65,"y":3.6},{"s":4,"x":80,"y":2.3},{"s":4,"x":100,"y":1.4},{"s":4,"x":130,"y":0.8},{"s":4,"x":170,"y":0.45},{"s":4,"x":220,"y":0.25},{"s":4,"x":300,"y":0.12},{"s":4,"x":400,"y":0.06},{"s":4,"x":550,"y":0.027},{"s":4,"x":750,"y":0.013},{"s":4,"x":1000,"y":0.007},{"s":4,"x":1500,"y":0.003},{"s":4,"x":3568,"y":0.0004},
{"s":5,"x":30,"y":70},{"s":5,"x":40,"y":40},{"s":5,"x":50,"y":26},{"s":5,"x":65,"y":14.5},{"s":5,"x":80,"y":9},{"s":5,"x":100,"y":5.5},{"s":5,"x":130,"y":3.0},{"s":5,"x":170,"y":1.6},{"s":5,"x":220,"y":0.9},{"s":5,"x":300,"y":0.42},{"s":5,"x":400,"y":0.2},{"s":5,"x":550,"y":0.09},{"s":5,"x":750,"y":0.04},{"s":5,"x":1000,"y":0.02},{"s":5,"x":1500,"y":0.007},{"s":5,"x":3568,"y":0.0008},
{"s":6,"x":30,"y":14},{"s":6,"x":40,"y":8},{"s":6,"x":50,"y":5},{"s":6,"x":65,"y":2.8},{"s":6,"x":80,"y":1.8},{"s":6,"x":100,"y":1.1},{"s":6,"x":130,"y":0.6},{"s":6,"x":170,"y":0.35},{"s":6,"x":220,"y":0.2},{"s":6,"x":300,"y":0.1},{"s":6,"x":400,"y":0.05},{"s":6,"x":550,"y":0.022},{"s":6,"x":750,"y":0.011},{"s":6,"x":1000,"y":0.006},{"s":6,"x":1500,"y":0.002},{"s":6,"x":3568,"y":0.0003}],
"p8b":[{"x":30,"y":90},{"x":40,"y":60},{"x":50,"y":40},{"x":65,"y":24},{"x":80,"y":15},{"x":100,"y":9.7},{"x":130,"y":5.4},{"x":170,"y":2.6},{"x":220,"y":1.2},{"x":300,"y":0.5},{"x":400,"y":0.2},{"x":550,"y":0.08},{"x":750,"y":0.03},{"x":1000,"y":0.012},{"x":1500,"y":0.004},{"x":3568,"y":0.0006}]
},
"spacing":16,
"vconcat":[
{"title":{"text":"（a）逻辑时钟相对速率偏差和时间偏差","orient":"bottom","anchor":"middle","offset":12,"fontSize":20,"font":"Liberation Serif, Noto Sans CJK SC","fontWeight":"normal"},
 "columns":2,"spacing":{"row":83,"column":75},"bounds":"flush","align":"each",
 "concat":[
 {"width":232,"height":169,
  "layer":[
   {"data":{"name":"p1"},"mark":{"type":"area","color":"#9c9c9c","opacity":0.9,"interpolate":"monotone","clip":true},
    "encoding":{"x":{"field":"x","type":"quantitative","scale":{"domain":[0,141.6],"nice":false,"zero":false},"axis":{"title":"迭代闪数","values":[0,50,100],"titleFont":"Noto Sans CJK SC","titleFontSize":18.5}},
     "y":{"field":"lo","type":"quantitative","scale":{"domain":[-379,281],"nice":false,"zero":false},"axis":{"title":"逻辑时钟的时间偏差TE/ns","values":[-200,0,200],"titleX":-53}},
     "y2":{"field":"hi"}}},
   {"data":{"name":"p1"},"mark":{"type":"line","color":"#707070","strokeWidth":0.8,"interpolate":"monotone","clip":true},
    "encoding":{"x":{"field":"x","type":"quantitative","scale":{"domain":[0,141.6],"nice":false,"zero":false}},
     "y":{"field":"hi","type":"quantitative","scale":{"domain":[-379,281],"nice":false,"zero":false}}}},
   {"data":{"name":"p1"},"mark":{"type":"line","color":"#707070","strokeWidth":0.8,"interpolate":"monotone","clip":true},
    "encoding":{"x":{"field":"x","type":"quantitative","scale":{"domain":[0,141.6],"nice":false,"zero":false}},
     "y":{"field":"lo","type":"quantitative","scale":{"domain":[-379,281],"nice":false,"zero":false}}}}
  ]},
 {"width":234,"height":169,
  "title":{"text":"×10⁻⁹","anchor":"start","frame":"group","offset":4,"fontSize":19,"font":"Liberation Serif, DejaVu Serif","fontWeight":"normal","dx":3},
  "layer":[
   {"data":{"name":"p2"},"mark":{"type":"area","color":"#a0a0a0","clip":true},
    "encoding":{"x":{"field":"x","type":"quantitative","scale":{"domain":[0,323],"nice":false,"zero":false},"axis":{"title":"迭代闪数","values":[0,100,200,300],"titleFont":"Noto Sans CJK SC","titleFontSize":18.5}},
     "y":{"field":"lo","type":"quantitative","scale":{"domain":[-1.45,3.335],"nice":false,"zero":false},"axis":{"title":"节点间相对频率偏差","values":[-1,0,1,2,3],"titleX":-38,"titleFont":"Noto Sans CJK SC"}},
     "y2":{"field":"hi"}}},
   {"data":{"name":"p2"},"mark":{"type":"line","color":"#6a6a6a","strokeWidth":0.8,"clip":true},
    "encoding":{"x":{"field":"x","type":"quantitative","scale":{"domain":[0,323],"nice":false,"zero":false}},
     "y":{"field":"m","type":"quantitative","scale":{"domain":[-1.45,3.335],"nice":false,"zero":false}}}}
  ]},
 {"width":232,"height":167,
  "layer":[
   {"data":{"name":"p3"},"mark":{"type":"area","color":"#b2b2b2","clip":true},
    "encoding":{"x":{"field":"x","type":"quantitative","scale":{"domain":[73,3615],"nice":false,"zero":false},"axis":{"title":"迭代闪数","values":[1000,2000,3000],"titleFont":"Noto Sans CJK SC","titleFontSize":18.5,"labelFont":"Liberation Mono","labelFontSize":16}},
     "y":{"field":"lo","type":"quantitative","scale":{"domain":[-0.1015,0.0937],"nice":false,"zero":false},"axis":{"title":"逻辑时钟的时间偏差TE/ns","values":[-0.1,-0.05,0,0.05],"labelExpr":"datum.value == 0 ? '0' : format(datum.value, '.2f')","labelFont":"Liberation Mono","labelFontSize":16,"titleX":-61}},
     "y2":{"field":"hi"}}},
   {"data":{"name":"p3"},"mark":{"type":"line","color":"#909090","strokeWidth":0.6,"clip":true},
    "encoding":{"x":{"field":"x","type":"quantitative","scale":{"domain":[73,3615],"nice":false,"zero":false}},
     "y":{"field":"n","type":"quantitative","scale":{"domain":[-0.1015,0.0937],"nice":false,"zero":false}}}},
   {"data":{"name":"p3"},"mark":{"type":"line","color":"#666666","strokeWidth":0.6,"clip":true},
    "encoding":{"x":{"field":"x","type":"quantitative","scale":{"domain":[73,3615],"nice":false,"zero":false}},
     "y":{"field":"m","type":"quantitative","scale":{"domain":[-0.1015,0.0937],"nice":false,"zero":false}}}},
   {"data":{"values":[{"x1":2017,"x2":3401,"y1":0.0314,"y2":0.0847}]},"mark":{"type":"rect","fill":"white","stroke":"#111111","strokeWidth":1.2},
    "encoding":{"x":{"field":"x1","type":"quantitative","scale":{"domain":[73,3615],"nice":false,"zero":false}},"x2":{"field":"x2"},
     "y":{"field":"y1","type":"quantitative","scale":{"domain":[-0.1015,0.0937],"nice":false,"zero":false}},"y2":{"field":"y2"}}},
   {"data":{"values":[{"tx":2069,"ty":0.0711,"t":"X:3520"},{"tx":2069,"ty":0.0489,"t":"Y:0.01883"}]},"mark":{"type":"text","align":"left","baseline":"middle","font":"Liberation Mono","fontSize":16,"color":"#111111"},
    "encoding":{"x":{"field":"tx","type":"quantitative","scale":{"domain":[73,3615],"nice":false,"zero":false}},
     "y":{"field":"ty","type":"quantitative","scale":{"domain":[-0.1015,0.0937],"nice":false,"zero":false}},"text":{"field":"t"}}},
   {"data":{"values":[{"mx":3520,"my":0.01883}]},"mark":{"type":"point","shape":"square","size":110,"filled":true,"color":"#000000","stroke":"#e0e0e0","strokeWidth":1,"opacity":1},
    "encoding":{"x":{"field":"mx","type":"quantitative","scale":{"domain":[73,3615],"nice":false,"zero":false}},
     "y":{"field":"my","type":"quantitative","scale":{"domain":[-0.1015,0.0937],"nice":false,"zero":false}}}}
  ]},
 {"width":234,"height":167,
  "title":{"text":"×10⁻¹⁰","anchor":"start","frame":"group","offset":4,"fontSize":19,"font":"Liberation Serif, DejaVu Serif","fontWeight":"normal","dx":3},
  "layer":[
   {"data":{"name":"p4"},"mark":{"type":"area","color":"#9a9a9a","clip":true},
    "encoding":{"x":{"field":"x","type":"quantitative","scale":{"domain":[0,3685],"nice":false,"zero":false},"axis":{"title":"迭代闪数","values":[0,1000,2000,3000],"titleFont":"Noto Sans CJK SC","titleFontSize":18.5}},
     "y":{"field":"lo","type":"quantitative","scale":{"domain":[-4,4],"nice":false,"zero":false},"axis":{"title":"节点间相对频率偏差","values":[-4,-2,0,2,4],"titleX":-40,"titleFont":"Noto Sans CJK SC"}},
     "y2":{"field":"hi"}}},
   {"data":{"name":"p4"},"mark":{"type":"area","color":"#5a5a5a","clip":true},
    "encoding":{"x":{"field":"x","type":"quantitative","scale":{"domain":[0,3685],"nice":false,"zero":false}},
     "y":{"field":"cl","type":"quantitative","scale":{"domain":[-4,4],"nice":false,"zero":false}},"y2":{"field":"ch"}}},
   {"data":{"values":[{"x1":1696,"x2":3507,"y1":0.93,"y2":3.12}]},"mark":{"type":"rect","fill":"white","stroke":"#111111","strokeWidth":1.2},
    "encoding":{"x":{"field":"x1","type":"quantitative","scale":{"domain":[0,3685],"nice":false,"zero":false}},"x2":{"field":"x2"},
     "y":{"field":"y1","type":"quantitative","scale":{"domain":[-4,4],"nice":false,"zero":false}},"y2":{"field":"y2"}}},
   {"data":{"values":[{"tx":1780,"ty":2.48,"t":"X:3587"},{"tx":1780,"ty":1.52,"t":"Y:3.956e-11"}]},"mark":{"type":"text","align":"left","baseline":"middle","font":"Liberation Mono","fontSize":16,"color":"#111111"},
    "encoding":{"x":{"field":"tx","type":"quantitative","scale":{"domain":[0,3685],"nice":false,"zero":false}},
     "y":{"field":"ty","type":"quantitative","scale":{"domain":[-4,4],"nice":false,"zero":false}},"text":{"field":"t"}}},
   {"data":{"values":[{"mx":3587,"my":0.3956}]},"mark":{"type":"point","shape":"square","size":110,"filled":true,"color":"#000000","stroke":"#e0e0e0","strokeWidth":1,"opacity":1},
    "encoding":{"x":{"field":"mx","type":"quantitative","scale":{"domain":[0,3685],"nice":false,"zero":false}},
     "y":{"field":"my","type":"quantitative","scale":{"domain":[-4,4],"nice":false,"zero":false}}}}
  ]}
 ]},
{"title":{"text":"（b）同步结果误差分析","orient":"bottom","anchor":"middle","offset":5,"fontSize":20,"font":"Liberation Serif, Noto Sans CJK SC","fontWeight":"normal"},
 "columns":2,"spacing":{"row":72,"column":83},"bounds":"flush","align":"each",
 "concat":[
 {"width":227,"height":173,
  "title":{"text":"最大时间间隔误差：0.60119ns","anchor":"middle","frame":"group","offset":4,"fontSize":18,"font":"Liberation Mono, Noto Sans CJK SC","fontWeight":"normal"},
  "layer":[
   {"data":{"name":"p5"},"mark":{"type":"area","color":"#a9a9a9","clip":true},
    "encoding":{"x":{"field":"x","type":"quantitative","scale":{"domain":[0,4000],"nice":false,"zero":false},"axis":{"title":null,"values":[0,1000,2000,3000,4000],"labelFont":"Liberation Mono","labelFontSize":16}},
     "y":{"field":"lo","type":"quantitative","scale":{"domain":[-0.296,0.296],"nice":false,"zero":false},"axis":{"title":"时间间隔误差TIE/ns","values":[-0.2,0,0.2],"labelExpr":"datum.value == 0 ? '0' : format(datum.value, '.1f')","labelFont":"Liberation Mono","labelFontSize":16,"titleX":-54}},
     "y2":{"field":"hi"}}},
   {"data":{"name":"p5"},"mark":{"type":"line","color":"#6a6a6a","strokeWidth":0.7,"clip":true},
    "encoding":{"x":{"field":"x","type":"quantitative","scale":{"domain":[0,4000],"nice":false,"zero":false}},
     "y":{"field":"m","type":"quantitative","scale":{"domain":[-0.296,0.296],"nice":false,"zero":false}}}},
   {"data":{"values":[{"x":35,"lo":-0.296,"hi":0.296}]},"mark":{"type":"rule","color":"#555555","strokeWidth":3.5,"clip":true},
    "encoding":{"x":{"field":"x","type":"quantitative","scale":{"domain":[0,4000],"nice":false,"zero":false}},
     "y":{"field":"lo","type":"quantitative","scale":{"domain":[-0.296,0.296],"nice":false,"zero":false}},"y2":{"field":"hi"}}},
   {"data":{"values":[{"x1":1656,"x2":3389,"y1":0.074,"y2":0.262}]},"mark":{"type":"rect","fill":"white","stroke":"#111111","strokeWidth":1.2},
    "encoding":{"x":{"field":"x1","type":"quantitative","scale":{"domain":[0,4000],"nice":false,"zero":false}},"x2":{"field":"x2"},
     "y":{"field":"y1","type":"quantitative","scale":{"domain":[-0.296,0.296],"nice":false,"zero":false}},"y2":{"field":"y2"}}},
   {"data":{"values":[{"tx":1745,"ty":0.188,"t":"X:3497"},{"tx":1745,"ty":0.122,"t":"Y:0.04547"}]},"mark":{"type":"text","align":"left","baseline":"middle","font":"Liberation Mono","fontSize":16,"color":"#111111"},
    "encoding":{"x":{"field":"tx","type":"quantitative","scale":{"domain":[0,4000],"nice":false,"zero":false}},
     "y":{"field":"ty","type":"quantitative","scale":{"domain":[-0.296,0.296],"nice":false,"zero":false}},"text":{"field":"t"}}},
   {"data":{"values":[{"mx":3497,"my":0.04547}]},"mark":{"type":"point","shape":"square","size":110,"filled":true,"color":"#000000","stroke":"#e0e0e0","strokeWidth":1,"opacity":1},
    "encoding":{"x":{"field":"mx","type":"quantitative","scale":{"domain":[0,4000],"nice":false,"zero":false}},
     "y":{"field":"my","type":"quantitative","scale":{"domain":[-0.296,0.296],"nice":false,"zero":false}}}}
  ]},
 {"width":227,"height":173,
  "layer":[
   {"data":{"name":"p6"},"mark":{"type":"line","color":"#666666","strokeWidth":1.2,"opacity":0.6,"interpolate":"monotone","clip":true},
    "encoding":{"x":{"field":"x","type":"quantitative","scale":{"domain":[41,3529],"nice":false,"zero":false},"axis":{"title":null,"values":[1000,2000,3000]}},
     "y":{"field":"y","type":"quantitative","scale":{"domain":[0,21.2],"nice":false,"zero":false},"axis":{"title":"TIE轨迹/ns","values":[0,5,10,15,20],"titleX":-39}},
     "detail":{"field":"s","type":"nominal"}}}
  ]},
 {"width":227,"height":173,
  "layer":[
   {"data":{"name":"p7"},"mark":{"type":"line","color":"#7a7a7a","strokeWidth":1.2,"opacity":0.75,"interpolate":"monotone","clip":true},
    "encoding":{"x":{"field":"x","type":"quantitative","scale":{"domain":[26,1176],"nice":false,"zero":false},"axis":{"title":null,"values":[200,400,600,800,1000],"labelFont":"Liberation Mono","labelFontSize":16}},
     "y":{"field":"y","type":"quantitative","scale":{"domain":[0,0.2],"nice":false,"zero":false},"axis":{"title":"逻辑时钟的时钟偏差TDEV/ns","values":[0.05,0.1,0.15,0.2],"format":".2f","labelFont":"Liberation Mono","labelFontSize":16,"titleX":-54}},
     "detail":{"field":"s","type":"nominal"}}},
   {"data":{"name":"p7b"},"mark":{"type":"line","color":"#c4c4c4","strokeWidth":3,"interpolate":"monotone","clip":true},
    "encoding":{"x":{"field":"x","type":"quantitative","scale":{"domain":[26,1176],"nice":false,"zero":false}},
     "y":{"field":"y","type":"quantitative","scale":{"domain":[0,0.2],"nice":false,"zero":false}}}},
   {"data":{"values":[{"x1":452,"x2":983,"y1":0.0112,"y2":0.0748}]},"mark":{"type":"rect","fill":"white","stroke":"#111111","strokeWidth":1.2},
    "encoding":{"x":{"field":"x1","type":"quantitative","scale":{"domain":[26,1176],"nice":false,"zero":false}},"x2":{"field":"x2"},
     "y":{"field":"y1","type":"quantitative","scale":{"domain":[0,0.2],"nice":false,"zero":false}},"y2":{"field":"y2"}}},
   {"data":{"values":[{"tx":477,"ty":0.052,"t":"X:1006"},{"tx":477,"ty":0.029,"t":"Y:0.004311"}]},"mark":{"type":"text","align":"left","baseline":"middle","font":"Liberation Mono","fontSize":16,"color":"#111111"},
    "encoding":{"x":{"field":"tx","type":"quantitative","scale":{"domain":[26,1176],"nice":false,"zero":false}},
     "y":{"field":"ty","type":"quantitative","scale":{"domain":[0,0.2],"nice":false,"zero":false}},"text":{"field":"t"}}},
   {"data":{"values":[{"mx":1006,"my":0.004311}]},"mark":{"type":"point","shape":"square","size":110,"filled":true,"color":"#000000","stroke":"#e0e0e0","strokeWidth":1,"opacity":1},
    "encoding":{"x":{"field":"mx","type":"quantitative","scale":{"domain":[26,1176],"nice":false,"zero":false}},
     "y":{"field":"my","type":"quantitative","scale":{"domain":[0,0.2],"nice":false,"zero":false}}}}
  ]},
 {"width":227,"height":173,
  "title":{"text":"×10⁻¹³","anchor":"start","frame":"group","offset":5,"fontSize":19,"font":"Liberation Serif, DejaVu Serif","fontWeight":"normal","dx":3},
  "layer":[
   {"data":{"name":"p8"},"mark":{"type":"line","color":"#777777","strokeWidth":1.3,"opacity":0.75,"interpolate":"monotone","clip":true},
    "encoding":{"x":{"field":"x","type":"quantitative","scale":{"domain":[30,3568],"nice":false,"zero":false},"axis":{"title":null,"values":[1000,2000,3000]}},
     "y":{"field":"y","type":"quantitative","scale":{"domain":[0,17.7],"nice":false,"zero":false},"axis":{"title":"逻辑时钟的阿伦方差","values":[5,10,15],"titleX":-38,"titleFont":"Noto Sans CJK SC"}},
     "detail":{"field":"s","type":"nominal"}}},
   {"data":{"name":"p8b"},"mark":{"type":"line","color":"#d0d0d0","strokeWidth":2.5,"interpolate":"monotone","clip":true},
    "encoding":{"x":{"field":"x","type":"quantitative","scale":{"domain":[30,3568],"nice":false,"zero":false}},
     "y":{"field":"y","type":"quantitative","scale":{"domain":[0,17.7],"nice":false,"zero":false}}}},
   {"data":{"values":[{"x1":1733,"x2":3510,"y1":0.64,"y2":6.27}]},"mark":{"type":"rect","fill":"white","stroke":"#111111","strokeWidth":1.2},
    "encoding":{"x":{"field":"x1","type":"quantitative","scale":{"domain":[30,3568],"nice":false,"zero":false}},"x2":{"field":"x2"},
     "y":{"field":"y1","type":"quantitative","scale":{"domain":[0,17.7],"nice":false,"zero":false}},"y2":{"field":"y2"}}},
   {"data":{"values":[{"tx":1818,"ty":4.23,"t":"X:3600"},{"tx":1818,"ty":2.18,"t":"Y:6.376e-16"}]},"mark":{"type":"text","align":"left","baseline":"middle","font":"Liberation Mono","fontSize":16,"color":"#111111"},
    "encoding":{"x":{"field":"tx","type":"quantitative","scale":{"domain":[30,3568],"nice":false,"zero":false}},
     "y":{"field":"ty","type":"quantitative","scale":{"domain":[0,17.7],"nice":false,"zero":false}},"text":{"field":"t"}}},
   {"data":{"values":[{"mx":3600,"my":0.0064}]},"mark":{"type":"point","shape":"square","size":110,"filled":true,"color":"#000000","stroke":"#e0e0e0","strokeWidth":1,"opacity":1},
    "encoding":{"x":{"field":"mx","type":"quantitative","scale":{"domain":[30,3568],"nice":false,"zero":false}},
     "y":{"field":"my","type":"quantitative","scale":{"domain":[0,17.7],"nice":false,"zero":false}}}}
  ]}
 ]}
]
}
